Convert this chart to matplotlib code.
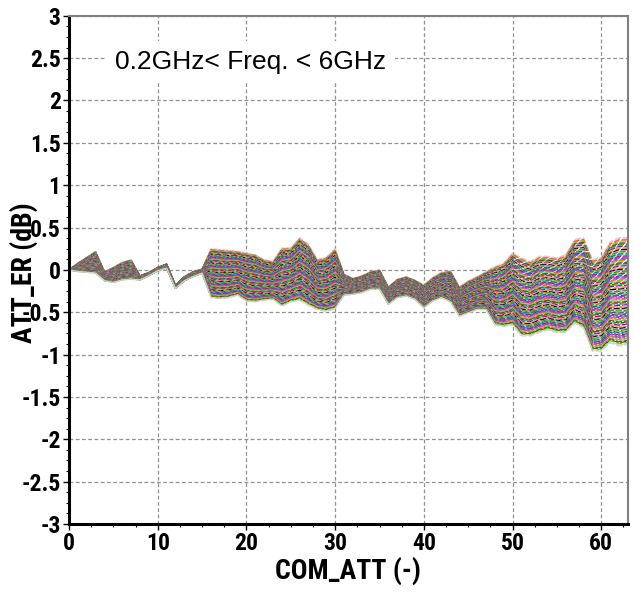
import numpy as np
import matplotlib
matplotlib.use('Agg')
import matplotlib.pyplot as plt
from matplotlib import font_manager
from matplotlib.ticker import MultipleLocator

# COM_ATT steps 0..63
com_att = list(range(64))

# upper / lower edge of the ATT_ER band (dB)
band_top = [0.00, 0.08, 0.15, 0.22, -0.02, 0.03, 0.09, 0.12, -0.07, -0.03,
            0.03, 0.07, -0.18, -0.08, -0.02, 0.01, 0.25, 0.24, 0.23, 0.22,
            0.20, 0.18, 0.12, 0.10, 0.26, 0.26, 0.38, 0.30, 0.12, 0.15,
            0.25, -0.05, -0.10, -0.07, -0.02, 0.00, -0.20, -0.11, -0.08, -0.12,
            -0.18, -0.09, -0.03, -0.01, -0.20, -0.13, -0.08, -0.02, 0.04, 0.08,
            0.20, 0.14, 0.10, 0.16, 0.16, 0.14, 0.18, 0.36, 0.38, 0.12,
            0.15, 0.33, 0.38, 0.38]
band_bottom = [0.00, -0.02, -0.03, -0.04, -0.13, -0.15, -0.12, -0.11, -0.12, -0.07,
               -0.01, 0.02, -0.22, -0.13, -0.08, -0.04, -0.33, -0.34, -0.33, -0.30,
               -0.37, -0.38, -0.36, -0.35, -0.43, -0.38, -0.36, -0.42, -0.47, -0.49,
               -0.46, -0.30, -0.29, -0.27, -0.23, -0.23, -0.41, -0.33, -0.31, -0.35,
               -0.45, -0.37, -0.33, -0.38, -0.55, -0.51, -0.47, -0.47, -0.65, -0.67,
               -0.65, -0.78, -0.78, -0.74, -0.71, -0.74, -0.74, -0.63, -0.69, -0.96,
               -0.96, -0.86, -0.90, -0.88]

x_ticks = [0, 10, 20, 30, 40, 50, 60]
y_ticks = [-3, -2.5, -2, -1.5, -1, -0.5, 0, 0.5, 1, 1.5, 2, 2.5, 3]
y_ticklabels = ['-3', '-2.5', '-2', '-1.5', '-1', '-0.5', '0', '0.5', '1', '1.5', '2', '2.5', '3']

palette = ['#ff00ff', '#00b000', '#8000ff', '#ff8000', '#00c0c0', '#000000',
           '#ff0000', '#0080ff', '#b0b000', '#ff80c0', '#60e060', '#804000',
           '#c080ff', '#00ff00', '#ff4080', '#4040c0', '#e0a000', '#008080']

# pick a narrow bold face (Arial Narrow look)
installed = set(f.name for f in font_manager.fontManager.ttflist)
narrow = 'DejaVu Sans'
for cand in ['Liberation Sans Narrow', 'Arial Narrow', 'Roboto Condensed',
             'PT Sans Narrow', 'Archivo Narrow', 'Asap Condensed']:
    if cand in installed:
        narrow = cand
        break

fig = plt.figure(figsize=(6.33, 5.93), dpi=100)
ax = fig.add_axes([0.109, 0.1164, 0.883, 0.857])

top = np.array(band_top)
bot = np.array(band_bottom)
n_lines = 100
for i in range(n_lines):
    t = i / (n_lines - 1)
    y = top + (bot - top) * t
    if i in (0, n_lines - 1):
        c = '#c8d2e6'
    elif i in (1, n_lines - 2):
        c = '#f0c8a8'
    else:
        c = palette[(i * 7) % len(palette)]
    offset = ((i * 37) % 11) * 0.55
    ax.plot(com_att, y, color=c, lw=0.9, ls=(offset, (5, 1.5)))

ax.set_xlim(0, 63)
ax.set_ylim(-3, 3)
ax.set_xticks(x_ticks)
ax.set_yticks(y_ticks)
ax.set_yticklabels(y_ticklabels)
ax.xaxis.set_minor_locator(MultipleLocator(2.5))
ax.yaxis.set_minor_locator(MultipleLocator(0.125))
ax.tick_params(which='major', length=4, width=1, direction='out', pad=2)
ax.tick_params(which='minor', length=2, width=0.8, direction='out')
for lab in ax.get_xticklabels() + ax.get_yticklabels():
    lab.set_fontfamily(narrow)
    lab.set_fontweight('bold')
    lab.set_fontsize(17)

ax.grid(True, which='major', color='#909090', ls=(0, (3, 2)), lw=0.9)
ax.set_axisbelow(True)

for s in ['left', 'bottom']:
    ax.spines[s].set_linewidth(2.2)
    ax.spines[s].set_color('black')
for s in ['top', 'right']:
    ax.spines[s].set_linewidth(1.5)
    ax.spines[s].set_color('#808080')

ax.set_xlabel('COM_ATT (-)', family=narrow, fontweight='bold', fontsize=20, labelpad=1)
fig.text(0.038, 0.54, 'ATT_ER (dB)', family=narrow, fontweight='bold', fontsize=20,
         rotation=90, ha='center', va='center')

ax.text(5.2, 2.46, '0.2GHz< Freq. < 6GHz', family=['Liberation Sans', 'DejaVu Sans'],
        fontsize=19, ha='left', va='center',
        bbox=dict(facecolor='white', edgecolor='none', pad=6))

fig.savefig('out.png', dpi=100)
